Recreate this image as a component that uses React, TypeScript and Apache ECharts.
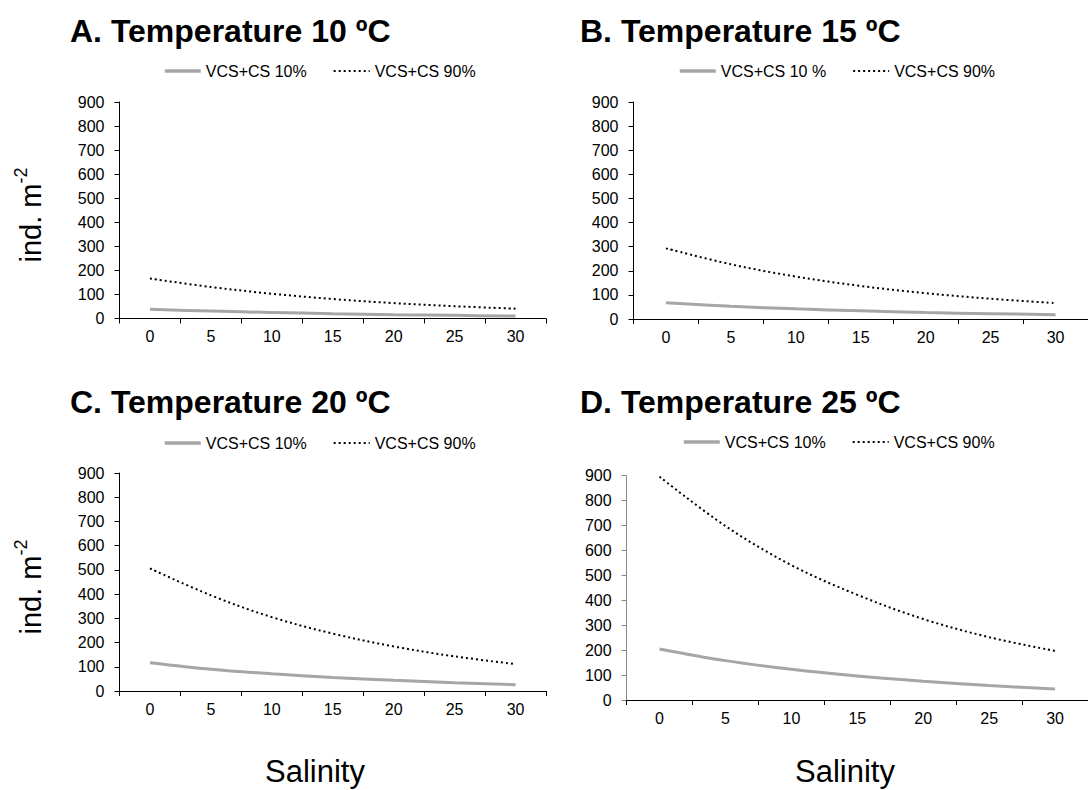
import React, { useEffect, useRef } from "react";
import * as echarts from "echarts";

const salinity = [0, 5, 10, 15, 20, 25, 30];
const tickLabels = ["0", "5", "10", "15", "20", "25", "30"];
const yTicks = { min: 0, max: 900, interval: 100 };

const titles = [
  "A. Temperature 10 ºC",
  "B. Temperature 15 ºC",
  "C. Temperature 20 ºC",
  "D. Temperature 25 ºC",
];
const names10 = ["VCS+CS 10%", "VCS+CS 10 %", "VCS+CS 10%", "VCS+CS 10%"];
const name90 = "VCS+CS 90%";

const a10 = [38, 31, 25, 20, 16, 13, 10];
const a90 = [166, 131, 103, 81, 64, 51, 41];
const b10 = [67, 53, 42, 34, 27, 22, 18];
const b90 = [293, 227, 176, 137, 107, 84, 66];
const c10 = [117, 90, 71, 56, 44, 34, 26];
const c90 = [506, 395, 305, 237, 184, 143, 111];
const d10 = [205, 158, 123, 96, 75, 58, 44];
const d90 = [896, 698, 541, 422, 325, 252, 197];

const low = [a10, b10, c10, d10];
const high = [a90, b90, c90, d90];

const yAxisName = "ind. m";
const yAxisSup = "-2";
const xAxisName = "Salinity";

// layout (pixels)
const grids = [
  { left: 119.5, top: 102, width: 426.5, height: 216.5 },
  { left: 633.5, top: 102, width: 460, height: 217 },
  { left: 119.5, top: 473, width: 426.5, height: 218 },
  { left: 626.6, top: 475.7, width: 469, height: 224.3 },
];
const titlePos = [
  { left: 70, top: 15 },
  { left: 580, top: 15 },
  { left: 70, top: 386 },
  { left: 580, top: 386 },
];
const legendPos = [
  { left: 163, top: 63 },
  { left: 678, top: 63 },
  { left: 163, top: 435 },
  { left: 682, top: 434 },
];

const GRAY = "#a6a6a6";

export default function App() {
  const ref = useRef<HTMLDivElement>(null);
  useEffect(() => {
    if (!ref.current) return;
    const chart = echarts.init(ref.current, null, { renderer: "svg" });
    const font = "Arial, 'Liberation Sans', sans-serif";

    const xAxes: any[] = [];
    const yAxes: any[] = [];
    const series: any[] = [];
    grids.forEach((g, i) => {
      const axisColor = i === 3 ? "#868686" : "#000";
      xAxes.push({
        type: "category",
        gridIndex: i,
        data: tickLabels,
        boundaryGap: true,
        position: "bottom",
        axisLine: { onZero: false, lineStyle: { color: "#000", width: 1 } },
        axisTick: { show: true, length: 5, interval: 0, lineStyle: { color: "#000" } },
        axisLabel: { interval: 0, fontSize: 16, color: "#000", margin: 10, fontFamily: font },
        splitLine: { show: false },
      });
      xAxes.push({
        type: "value",
        gridIndex: i,
        min: -2.5,
        max: 32.5,
        show: false,
      });
      yAxes.push({
        type: "value",
        gridIndex: i,
        min: yTicks.min,
        max: yTicks.max,
        interval: yTicks.interval,
        axisLine: { show: true, onZero: false, lineStyle: { color: axisColor, width: 1 } },
        axisTick: { show: true, length: 5, lineStyle: { color: axisColor } },
        axisLabel: { fontSize: 16, color: "#000", margin: 15, fontFamily: font },
        splitLine: { show: false },
      });
      series.push({
        type: "line",
        name: names10[i],
        xAxisIndex: i * 2 + 1,
        yAxisIndex: i,
        data: salinity.map((s, k) => [s, low[i][k]]),
        smooth: 0.35,
        symbol: "none",
        lineStyle: { color: GRAY, width: 3 },
        itemStyle: { color: GRAY },
      });
      series.push({
        type: "line",
        name: name90,
        xAxisIndex: i * 2 + 1,
        yAxisIndex: i,
        data: salinity.map((s, k) => [s, high[i][k]]),
        smooth: 0.35,
        symbol: "none",
        lineStyle: { color: "#000", width: 2, type: [2, 3] },
        itemStyle: { color: "#000" },
      });
    });

    const supText = (x: number, y: number) => ({
      type: "text",
      x,
      y,
      rotation: Math.PI / 2,
      style: {
        text: `{a|${yAxisName}}{b|${yAxisSup}}`,
        align: "center",
        verticalAlign: "middle",
        rich: {
          a: { fontSize: 29, lineHeight: 38, fontFamily: font, fill: "#000", verticalAlign: "middle" },
          b: { fontSize: 18, lineHeight: 18, fontFamily: font, fill: "#000", verticalAlign: "top" },
        },
      },
    });

    chart.setOption({
      animation: false,
      backgroundColor: "#fff",
      title: titles.map((t, i) => ({
        text: t,
        left: titlePos[i].left,
        top: titlePos[i].top,
        padding: 0,
        textStyle: { fontSize: 32, fontWeight: "bold", color: "#000", fontFamily: font },
      })),
      legend: grids.map((_, i) => ({
        data: [
          { name: names10[i], lineStyle: { width: 3.5, color: GRAY } },
          { name: name90, lineStyle: { width: 2, color: "#000", type: [2, 3] } },
        ],
        left: legendPos[i].left,
        top: legendPos[i].top,
        padding: 0,
        itemWidth: 36,
        itemHeight: 14,
        itemGap: 26,
        selectedMode: false,
        itemStyle: { color: "rgba(0,0,0,0)", borderWidth: 0, opacity: 0 },
        textStyle: { fontSize: 16, color: "#000", fontFamily: font },
      })),
      grid: grids.map((g) => ({ ...g, containLabel: false })),
      xAxis: xAxes,
      yAxis: yAxes,
      series,
      graphic: [
        supText(31, 215),
        supText(31, 587),
        {
          type: "text",
          x: 315,
          y: 771.5,
          style: { text: xAxisName, fontSize: 31, fontFamily: font, fill: "#000", align: "center", verticalAlign: "middle" },
        },
        {
          type: "text",
          x: 845,
          y: 771.5,
          style: { text: xAxisName, fontSize: 31, fontFamily: font, fill: "#000", align: "center", verticalAlign: "middle" },
        },
      ],
    });
    return () => chart.dispose();
  }, []);
  return (
    <div
      ref={ref}
      style={{ position: "absolute", left: 0, top: 0, width: 1088, height: 790, background: "#fff" }}
    />
  );
}
